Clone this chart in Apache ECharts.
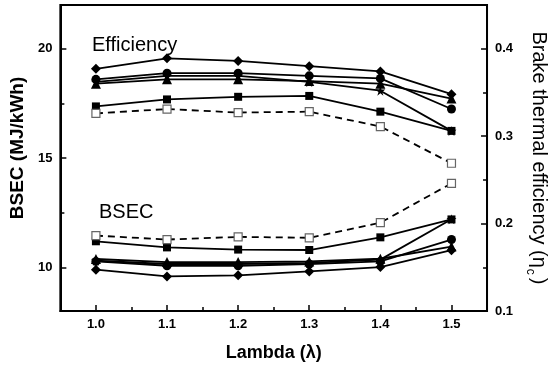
<!DOCTYPE html>
<html>
<head>
<meta charset="utf-8">
<script src="https://cdn.jsdelivr.net/npm/echarts@6/dist/echarts.min.js"></script>
<style>
html,body{margin:0;padding:0;background:#fff;}
#chart{width:557px;height:368px;}
</style>
</head>
<body>
<div id="chart"></div>
<script>
// ---- data ----
const lambda = [1.0, 1.1, 1.2, 1.3, 1.4, 1.5];

const effDiamond  = [0.377, 0.389, 0.386, 0.380, 0.374, 0.348];
const effCircle   = [0.365, 0.372, 0.372, 0.369, 0.366, 0.331];
const effTriangle = [0.360, 0.365, 0.365, 0.363, 0.360, 0.343];
const effStar     = [0.362, 0.369, 0.369, 0.362, 0.352, 0.306];
const effSquare   = [0.334, 0.342, 0.345, 0.346, 0.328, 0.306];
const effOpen     = [0.326, 0.331, 0.327, 0.328, 0.311, 0.269];

const bsecDiamond  = [9.89, 9.58, 9.63, 9.81, 10.01, 10.78];
const bsecCircle   = [10.27, 10.07, 10.07, 10.15, 10.27, 11.27];
const bsecTriangle = [10.38, 10.24, 10.24, 10.27, 10.39, 10.95];
const bsecStar     = [10.30, 10.15, 10.15, 10.20, 10.35, 12.20];
const bsecSquare   = [11.19, 10.91, 10.81, 10.79, 11.37, 12.19];
const bsecOpen     = [11.45, 11.27, 11.39, 11.35, 12.04, 13.84];

const xMajorTicks = [1.0, 1.1, 1.2, 1.3, 1.4, 1.5];
const xMinorTicks = [1.05, 1.15, 1.25, 1.35, 1.45];
const leftMajorTicks = [10, 15, 20];
const leftMinorTicks = [12.5, 17.5];
const rightMajorTicks = [0.1, 0.2, 0.3, 0.4];
const rightMinorTicks = [0.15, 0.25, 0.35];

// ---- chart ----
const STAR = 'path://M50,0 L61,35 L98,35 L68,57 L79,91 L50,70 L21,91 L32,57 L2,35 L39,35 Z';
const FONT = 'Liberation Sans, Arial, sans-serif';
const pairs = arr => lambda.map((x, i) => [x, arr[i]]);

function mk(data, yIdx, symbol, size, open) {
  return {
    type: 'line',
    xAxisIndex: 0,
    yAxisIndex: yIdx,
    data: pairs(data),
    symbol: symbol,
    symbolSize: size,
    showSymbol: true,
    animation: false,
    lineStyle: { color: '#000', width: 1.8, type: open ? [7, 5] : 'solid' },
    itemStyle: open
      ? { color: '#fff', borderColor: '#666', borderWidth: 1.2 }
      : { color: '#000', borderColor: '#000', borderWidth: 0 },
    z: open ? 3 : 2
  };
}

const labelStyle = { fontFamily: FONT, fontWeight: 'bold', fontSize: 13, color: '#000' };

const option = {
  animation: false,
  backgroundColor: '#fff',
  grid: { left: 59, right: 63, top: 5, bottom: 57, show: true, borderColor: '#000', borderWidth: 2, backgroundColor: 'transparent' },
  xAxis: [
    {
      type: 'value', min: 0.95, max: 1.55, position: 'bottom',
      axisLine: { show: true, onZero: false, lineStyle: { color: '#000', width: 2 } },
      axisTick: { show: true, inside: true, length: 6, customValues: xMajorTicks, lineStyle: { color: '#000', width: 1.5 } },
      axisLabel: Object.assign({ show: true, margin: 7, customValues: xMajorTicks, formatter: v => v.toFixed(1) }, labelStyle),
      splitLine: { show: false },
      name: 'Lambda (λ)', nameLocation: 'middle', nameGap: 33,
      nameTextStyle: { fontFamily: FONT, fontWeight: 'bold', fontSize: 18, color: '#000' }
    },
    {
      type: 'value', min: 0.95, max: 1.55, position: 'bottom',
      axisLine: { show: false },
      axisTick: { show: true, inside: true, length: 4, customValues: xMinorTicks, lineStyle: { color: '#000', width: 1.5 } },
      axisLabel: { show: false },
      splitLine: { show: false }
    }
  ],
  yAxis: [
    {
      type: 'value', min: 8, max: 22, position: 'left',
      axisLine: { show: true, onZero: false, lineStyle: { color: '#000', width: 2 } },
      axisTick: { show: true, inside: true, length: 6, customValues: leftMajorTicks, lineStyle: { color: '#000', width: 1.5 } },
      axisLabel: Object.assign({ show: true, margin: 8, customValues: leftMajorTicks }, labelStyle),
      splitLine: { show: false },
      name: 'BSEC (MJ/kWh)', nameLocation: 'middle', nameGap: 22, nameRotate: 90,
      nameTextStyle: { fontFamily: FONT, fontWeight: 'bold', fontSize: 19, color: '#000', padding: [0, 0, 0, 20] }
    },
    {
      type: 'value', min: 0.1, max: 0.45, position: 'right',
      axisLine: { show: true, onZero: false, lineStyle: { color: '#000', width: 2 } },
      axisTick: { show: true, inside: true, length: 6, customValues: rightMajorTicks, lineStyle: { color: '#000', width: 1.5 } },
      axisLabel: Object.assign({ show: true, margin: 8, customValues: rightMajorTicks, formatter: v => v.toFixed(1) }, labelStyle),
      splitLine: { show: false },
      name: '{a|Brake thermal efficiency (η}{s|c}{a|)}', nameLocation: 'middle', nameGap: 32, nameRotate: -90,
      nameTextStyle: {
        fontFamily: FONT, fontSize: 20, color: '#000',
        rich: {
          a: { fontFamily: FONT, fontSize: 20, color: '#000', verticalAlign: 'top', lineHeight: 21 },
          s: { fontFamily: FONT, fontSize: 12, color: '#000', verticalAlign: 'top', lineHeight: 12, padding: [13, 3, 0, 1] }
        }
      }
    },
    {
      type: 'value', min: 8, max: 22, position: 'left',
      axisLine: { show: false },
      axisTick: { show: true, inside: true, length: 4, customValues: leftMinorTicks, lineStyle: { color: '#000', width: 1.5 } },
      axisLabel: { show: false }, splitLine: { show: false }
    },
    {
      type: 'value', min: 0.1, max: 0.45, position: 'right',
      axisLine: { show: false },
      axisTick: { show: true, inside: true, length: 4, customValues: rightMinorTicks, lineStyle: { color: '#000', width: 1.5 } },
      axisLabel: { show: false }, splitLine: { show: false }
    }
  ],
  graphic: [
    { type: 'text', left: 92, top: 35, style: { text: 'Efficiency', font: 'normal 20px ' + FONT, fill: '#000' } },
    { type: 'text', left: 99, top: 202, style: { text: 'BSEC', font: 'normal 20px ' + FONT, fill: '#000' } }
  ],
  series: [
    mk(effOpen, 1, 'rect', 8, true),
    mk(effSquare, 1, 'rect', 8, false),
    mk(effStar, 1, STAR, 10, false),
    mk(effTriangle, 1, 'triangle', 10, false),
    mk(effCircle, 1, 'circle', 9, false),
    mk(effDiamond, 1, 'diamond', 10, false),
    mk(bsecOpen, 0, 'rect', 8, true),
    mk(bsecSquare, 0, 'rect', 8, false),
    mk(bsecStar, 0, STAR, 10, false),
    mk(bsecTriangle, 0, 'triangle', 10, false),
    mk(bsecCircle, 0, 'circle', 9, false),
    mk(bsecDiamond, 0, 'diamond', 10, false)
  ]
};

const chart = echarts.init(document.getElementById('chart'), null, { renderer: 'canvas' });
chart.setOption(option);
</script>
</body>
</html>
